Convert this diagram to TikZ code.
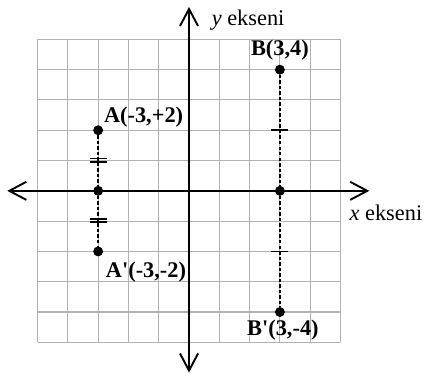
\documentclass[tikz,border=0pt]{standalone}
\usepackage{fontspec}
\setmainfont{Liberation Serif}
\usetikzlibrary{arrows.meta}

\begin{document}
\begin{tikzpicture}[x=0.5cm,y=0.5cm]
\tikzset{pt/.style={circle,draw,fill=black,inner sep=0pt,minimum size=4.3pt,line width=0.3pt},
         lab/.style={draw=none,fill=none,inner sep=0.8pt,font=\fontsize{10.5}{12}\selectfont\bfseries},
         axlab/.style={draw=none,fill=none,inner sep=0.8pt,font=\fontsize{10.5}{12}\selectfont},
         axis/.style={line width=0.9pt,{Straight Barb[length=8pt,width=8.5pt]}-{Straight Barb[length=8pt,width=8.5pt]}},
         dsh/.style={dashed,dash pattern=on 1.6pt off 1pt,line width=0.7pt},
         tk/.style={line width=0.85pt}}
\useasboundingbox (-6.24,-6.17) rectangle (7.79,6.30);
\draw[gray!60,line width=0.5pt,step=0.5cm] (-5,-5) grid (5,5);
\coordinate (xl) at (-6,0);
\coordinate (xr) at (5.95,0);
\coordinate (yb) at (0,-6);
\coordinate (yt) at (0,6.07);
\draw[axis] (xl)--(xr);
\draw[axis] (yb)--(yt);
\node[axlab] (yl) at (1.95,5.62) {\textit{y} ekseni};
\node[axlab] (xlb) at (6.5,-0.73) {\textit{x} ekseni};
% points
\node[pt] (a) at (-3,2) {};
\node[pt] (a0) at (-3,0) {};
\node[pt] (a1) at (-3,-2) {};
\node[pt] (b) at (3,4) {};
\node[pt] (b0) at (3,0) {};
\node[pt] (b1) at (3,-4) {};
\draw[dsh] (a)--(a0)--(a1);
\draw[dsh] (b)--(b0)--(b1);
% equal marks
\draw[tk] (-3.28,1.07)--(-2.72,1.07);
\draw[tk] (-3.28,0.96)--(-2.72,0.96);
\draw[tk] (-3.28,-0.93)--(-2.72,-0.93);
\draw[tk] (-3.28,-1.04)--(-2.72,-1.04);
\draw[tk] (2.72,2)--(3.28,2);
\draw[tk] (2.72,-2)--(3.28,-2);
\node[lab] at (-1.5,2.44) {A(-3,+2)};
\node[lab] at (-1.42,-2.67) {A\textquotesingle(-3,-2)};
\node[lab] at (3.0,4.65) {B(3,4)};
\node[lab] at (3.1,-4.6) {B\textquotesingle(3,-4)};
\end{tikzpicture}
\end{document}
